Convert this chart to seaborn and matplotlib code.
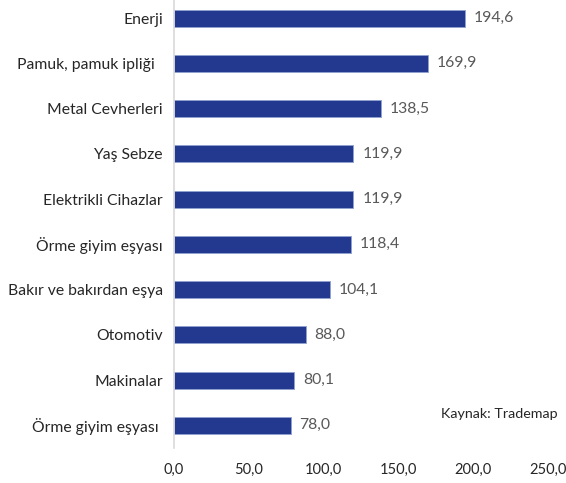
import matplotlib
matplotlib.use("Agg")
import matplotlib.pyplot as plt
import seaborn as sns
import pandas as pd

categories = ["Enerji", "Pamuk, pamuk ipliği  ", "Metal Cevherleri", "Yaş Sebze",
              "Elektrikli Cihazlar", "Örme giyim eşyası", "Bakır ve bakırdan eşya",
              "Otomotiv", "Makinalar", "Örme giyim eşyası "]
values = [194.6, 169.9, 138.5, 119.9, 119.9, 118.4, 104.1, 88.0, 80.1, 78.0]
xticks = [0, 50, 100, 150, 200, 250]
source_note = "Kaynak: Trademap"

sns.set_theme(style="white")
plt.rcParams['font.family'] = ['Lato', 'DejaVu Sans']

df = pd.DataFrame({"cat": categories, "val": values})

fig = plt.figure(figsize=(5.66, 4.83), dpi=100)
ax = fig.add_axes([0.3074, 0.0725, 0.6606, 0.9275])
sns.barplot(data=df, x="val", y="cat", color="#22398f", saturation=1,
            width=0.38, ax=ax, orient="h", edgecolor="#8fa0d0", linewidth=0.6)

for i, v in enumerate(values):
    ax.text(v + 6, i, f"{v:.1f}".replace(".", ","), va="center", ha="left",
            fontsize=11.3, color="#595959")

ax.set_xlim(0, 250)
ax.set_ylim(9.5, -0.4)
ax.set_xticks(xticks)
ax.set_xticklabels([f"{t:.1f}".replace(".", ",") for t in xticks])
ax.set_xlabel("")
ax.set_ylabel("")
for s in ["top", "right", "bottom"]:
    ax.spines[s].set_visible(False)
ax.spines["left"].set_color("#d9d9d9")
ax.spines["left"].set_linewidth(1.2)
ax.tick_params(axis="y", length=0, pad=8, labelsize=11.3, labelcolor="#262626")
ax.tick_params(axis="x", length=0, pad=11, labelsize=10.5, labelcolor="#262626")

ax.text(0.985, 1 - 414 / 483, source_note, transform=fig.transFigure, ha="right", va="center",
        fontsize=10.3, color="#262626")

fig.savefig("out.png", dpi=100)
